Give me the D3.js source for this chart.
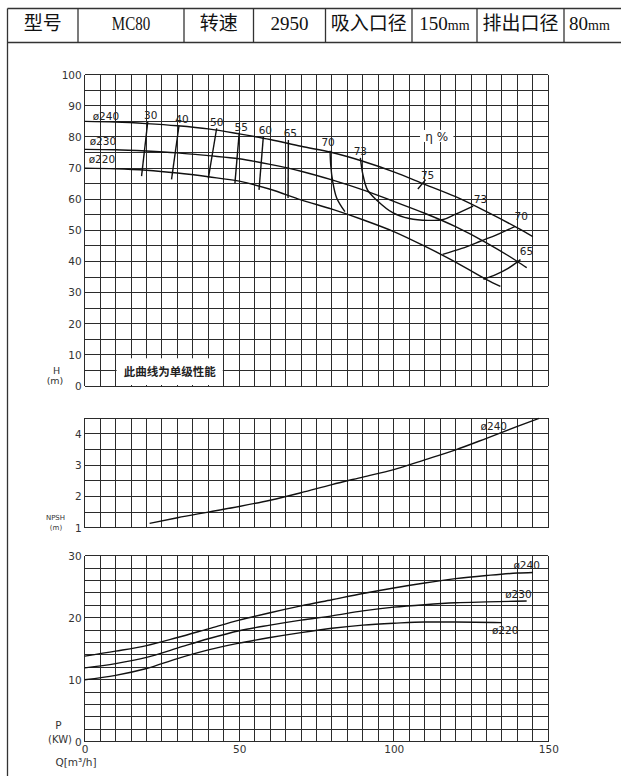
<!DOCTYPE html>
<html lang="zh">
<head>
  <meta charset="utf-8">
  <title>MC80 性能曲线</title>
  <script src="https://d3js.org/d3.v7.min.js"></script>
  <style>
    body { margin: 0; background: #fff; }
    svg { display: block; }
  </style>
</head>
<body>
<script>

// header row of the sheet
const headerCells = ["型号", "MC80", "转速", "2950", "吸入口径", "150mm", "排出口径", "80mm"];

// tick labels
const flowTicks = [0, 50, 100, 150];
const headTicks = [0, 10, 20, 30, 40, 50, 60, 70, 80, 90, 100];
const npshTicks = [1, 2, 3, 4];
const powerTicks = [0, 10, 20, 30];

const impellers = ["ø240", "ø230", "ø220"];

// Q-H curves, [Q m3/h, H m]
const head240 = [[0, 85], [10, 84.8], [20, 84.3], [30, 83.6], [40, 82.6], [50, 81], [60, 79.2], [70, 77],
  [80, 75], [90, 72.2], [100, 68.8], [110, 64.8], [120, 60.8], [130, 56], [140, 50.8], [145, 48]];
const head230 = [[0, 76], [10, 75.9], [20, 75.5], [30, 74.9], [40, 74], [50, 73], [60, 71.2], [70, 69],
  [80, 66.2], [90, 63], [100, 59.3], [110, 55.5], [120, 51.2], [130, 46], [140, 40], [143, 38]];
const head220 = [[0, 70], [10, 69.8], [20, 69.3], [30, 68.4], [40, 67.2], [50, 65.8], [60, 63.2], [70, 59.8],
  [80, 56.8], [90, 53.4], [100, 49.6], [110, 44.9], [120, 39.8], [130, 34.2], [134.5, 32]];

// iso-efficiency lines, η %
const effLabels = ["30", "40", "50", "55", "60", "65", "70", "73", "75", "73", "70", "65"];
const effLines = [
  [[20.4, 84.9], [18.4, 67.4]],
  [[30.5, 83.6], [28.1, 66.4]],
  [[42.7, 82.8], [40, 66.7]],
  [[50, 81.4], [48.6, 65.1]],
  [[57.8, 80.1], [56.4, 63]],
  [[65.9, 79], [65.8, 60.4]],
  [[79.4, 75.6], [79.6, 71], [80.2, 66], [81.5, 60.5], [84.2, 56]],
  [[89.2, 73.3], [90, 68], [91.5, 63], [94.5, 59.7], [99.8, 55.6], [105, 53.8], [111, 53.2], [116, 53.5], [120, 55.2], [125.7, 57.8]],
  [[107.8, 63.3], [110.3, 66.3]],
  [[125.7, 57.8], [125.8, 57.9]],
  [[115.8, 42.3], [122, 44.2], [128, 46.5], [134, 48.9], [139.3, 51.3]],
  [[129, 34.3], [133, 35.8], [137, 37.8], [141, 40.6]]
];

// NPSH, [Q, m]
const npsh240 = [[21, 1.14], [30, 1.32], [40, 1.5], [50, 1.68], [60, 1.88], [70, 2.12], [80, 2.38], [90, 2.62],
  [100, 2.86], [110, 3.17], [120, 3.49], [130, 3.86], [140, 4.24], [147, 4.5]];

// shaft power, [Q, kW]
const power240 = [[0, 13.8], [10, 14.6], [20, 15.5], [30, 16.8], [40, 18.2], [50, 19.6], [60, 20.8], [70, 21.9],
  [80, 22.9], [90, 23.9], [100, 24.8], [110, 25.6], [120, 26.3], [130, 26.8], [140, 27.2], [145, 27.3]];
const power230 = [[0, 11.9], [10, 12.6], [20, 13.6], [30, 15.1], [40, 16.6], [50, 17.9], [60, 18.8], [70, 19.6],
  [80, 20.3], [90, 21.1], [100, 21.7], [110, 22.1], [120, 22.4], [130, 22.55], [143, 22.7]];
const power220 = [[0, 10], [10, 10.7], [20, 11.8], [30, 13.4], [40, 14.8], [50, 15.9], [60, 16.8], [70, 17.6],
  [80, 18.3], [90, 18.8], [100, 19.1], [110, 19.3], [120, 19.3], [135, 19.2]];


const width = 621, height = 776;
const cad = "DejaVu Sans, sans-serif";
const ink = "#111";
const gridInk = "#2b2b2b";

const svg = d3.select("body").append("svg")
  .attr("width", width)
  .attr("height", height);

// scales, all three panels share the flow axis
const x = d3.scaleLinear().domain([0, 150]).range([84.7, 548.3]);
const yH = d3.scaleLinear().domain([0, 100]).range([386, 74.7]);
const yN = d3.scaleLinear().domain([1, 4.5]).range([527.7, 418.3]);
const yP = d3.scaleLinear().domain([0, 30]).range([741.7, 555.7]);

// ---- frame and header table ----
const colEdges = [7.5, 78, 184, 253.5, 325.5, 412, 477, 564, 621];
const headTop = 8.5, headBottom = 42.5;

const frame = svg.append("g")
  .attr("stroke", "#333")
  .attr("stroke-width", 1.3);
frame.append("line").attr("x1", 7.5).attr("x2", 7.5).attr("y1", headTop).attr("y2", height);
frame.append("line").attr("x1", 7.5).attr("x2", width).attr("y1", headTop).attr("y2", headTop);
frame.append("line").attr("x1", 7.5).attr("x2", width).attr("y1", headBottom).attr("y2", headBottom);
frame.selectAll(".sep")
  .data(colEdges.slice(1, -1))
  .join("line")
  .attr("class", "sep")
  .attr("x1", d => d).attr("x2", d => d)
  .attr("y1", headTop).attr("y2", headBottom);

const cells = svg.append("g")
  .selectAll("text")
  .data(headerCells)
  .join("text")
  .attr("x", (d, i) => (colEdges[i] + colEdges[i + 1]) / 2 + (i === headerCells.length - 1 ? -3 : 0))
  .attr("y", 30)
  .attr("text-anchor", "middle")
  .attr("fill", "#111");

cells.each(function (d) {
  const t = d3.select(this);
  if (/[\u4e00-\u9fff]/.test(d)) {
    t.style("font-family", "'Noto Sans CJK SC', sans-serif").style("font-size", "19px").text(d);
    return;
  }
  t.style("font-family", "'Liberation Serif', serif").style("font-size", "19px");
  const m = d.match(/^(\d+)(mm)$/);
  if (m) {
    t.append("tspan").text(m[1]);
    t.append("tspan").style("font-size", "14px").text(m[2]);
  } else {
    t.text(d);
    const target = d.length * 9.6;
    if (this.getComputedTextLength() > target) {
      t.attr("textLength", target).attr("lengthAdjust", "spacingAndGlyphs");
    }
  }
});

// ---- grids ----
function grid(y, step) {
  const g = svg.append("g")
    .attr("stroke", gridInk)
    .attr("stroke-width", 1)
    .attr("shape-rendering", "crispEdges");
  g.append("g").selectAll("line")
    .data(d3.range(0, 150 + 1e-6, 5))
    .join("line")
    .attr("x1", d => x(d)).attr("x2", d => x(d))
    .attr("y1", y.range()[0]).attr("y2", y.range()[1]);
  g.append("g").selectAll("line")
    .data(d3.range(y.domain()[0], y.domain()[1] + 1e-6, step))
    .join("line")
    .attr("x1", x.range()[0]).attr("x2", x.range()[1])
    .attr("y1", d => y(d)).attr("y2", d => y(d));
  return g;
}

grid(yH, 5);
grid(yN, 0.5);
grid(yP, 2);

// note box at the foot of the Q-H panel
svg.append("rect")
  .attr("x", x(10) + 1)
  .attr("y", yH(8.9))
  .attr("width", x(45) - x(10) - 2)
  .attr("height", yH(0) - yH(8.9) - 1)
  .attr("fill", "#fff");
svg.append("text")
  .attr("x", (x(10) + x(45)) / 2)
  .attr("y", yH(0) - 10)
  .attr("text-anchor", "middle")
  .style("font-family", "'Noto Sans CJK SC', sans-serif")
  .style("font-size", "11.5px")
  .style("font-weight", "bold")
  .attr("fill", "#222")
  .text("此曲线为单级性能");

// ---- axes (labels only, the grid carries the lines) ----
function leftAxis(y, ticks) {
  const g = svg.append("g")
    .attr("transform", `translate(${x.range()[0]},0)`)
    .call(d3.axisLeft(y).tickValues(ticks).tickSize(0).tickPadding(3).tickFormat(d3.format("d")));
  g.select(".domain").remove();
  g.selectAll("text")
    .style("font-family", cad)
    .style("font-size", "10.5px")
    .attr("fill", "#333");
  return g;
}
leftAxis(yH, headTicks);
leftAxis(yN, npshTicks);
leftAxis(yP, powerTicks);

const xAxis = svg.append("g")
  .attr("transform", `translate(0,${yP.range()[0]})`)
  .call(d3.axisBottom(x).tickValues(flowTicks).tickSize(0).tickPadding(4));
xAxis.select(".domain").remove();
xAxis.selectAll("text")
  .style("font-family", cad)
  .style("font-size", "10.5px")
  .attr("fill", "#333");

// axis titles
function label(tx, ty, txt, size, anchor) {
  return svg.append("text")
    .attr("x", tx).attr("y", ty)
    .attr("text-anchor", anchor || "middle")
    .style("font-family", cad)
    .style("font-size", size + "px")
    .attr("fill", "#333")
    .text(txt);
}
label(56.5, 373.5, "H", 9.5);
label(55, 383.5, "(m)", 9.5);
label(55.5, 519.5, "NPSH", 7);
label(56, 530, "(m)", 7);
label(58.5, 729, "P", 10.5);
label(72, 743, "(KW)", 10, "end");
label(76, 765.5, "Q[m³/h]", 10.5);

// ---- curves ----
const lineH = d3.line().x(d => x(d[0])).y(d => yH(d[1])).curve(d3.curveMonotoneX);
const lineEff = d3.line().x(d => x(d[0])).y(d => yH(d[1])).curve(d3.curveCatmullRom.alpha(0.5));
const lineN = d3.line().x(d => x(d[0])).y(d => yN(d[1])).curve(d3.curveMonotoneX);
const lineP = d3.line().x(d => x(d[0])).y(d => yP(d[1])).curve(d3.curveMonotoneX);

function curve(path, d) {
  return svg.append("path")
    .datum(d)
    .attr("d", path)
    .attr("fill", "none")
    .attr("stroke", ink)
    .attr("stroke-width", 1.4)
    .attr("stroke-linejoin", "round");
}

const heads = [head240, head230, head220];
heads.forEach(d => curve(lineH, d));
effLines.forEach((d, i) => { if (d.length > 1 && i !== 9) curve(lineEff, d); });

// impeller labels at the shut-off end of each Q-H curve
const headLabelOffset = [[8, -1.5], [5, -4], [4, -4.6]];
heads.forEach((d, i) => {
  label(x(d[0][0]) + headLabelOffset[i][0], yH(d[0][1]) + headLabelOffset[i][1], impellers[i], 10.5, "start")
    .attr("fill", "#222");
});

// efficiency labels: which end of the line, and the nudge in px
const effAnchor = [
  [0, 3, -2.5], [0, 3, -2.5], [0, 0, -2], [0, 2, -2], [0, 2, -3], [0, 2, -3.5],
  [0, -2, -4.5], [0, 0, -3], [1, 2, -1], [1, 7, -3], [1, 6, -6], [1, 6, -4.5]
];
effLines.forEach((d, i) => {
  const [end, dx, dy] = effAnchor[i];
  const p = end === 0 ? d[0] : d[d.length - 1];
  label(x(p[0]) + dx, yH(p[1]) + dy, effLabels[i], 10.5).attr("fill", "#222");
});

// η % tag sits on the H = 80 grid line
const etaX = (x(108.5) + x(119.3)) / 2;
svg.append("rect")
  .attr("x", x(108.5)).attr("y", yH(80) - 7)
  .attr("width", x(119.3) - x(108.5)).attr("height", 12)
  .attr("fill", "#fff");
label(etaX, yH(80) + 4, "η %", 12).attr("fill", "#222");

// NPSH
curve(lineN, npsh240);
const nEnd = npsh240[npsh240.length - 1];
label(x(nEnd[0]) - 32, yN(nEnd[1]) + 11.5, impellers[0], 10.5, "end").attr("fill", "#222");

// shaft power
const powers = [power240, power230, power220];
powers.forEach(d => curve(lineP, d));
const powerLabelOffset = [[7, -3.5, "end"], [5, -3, "end"], [-10, 11, "start"]];
powers.forEach((d, i) => {
  const p = d[d.length - 1];
  const [dx, dy, anchor] = powerLabelOffset[i];
  label(x(p[0]) + dx, yP(p[1]) + dy, impellers[i], 10.5, anchor).attr("fill", "#222");
});

</script>
</body>
</html>
